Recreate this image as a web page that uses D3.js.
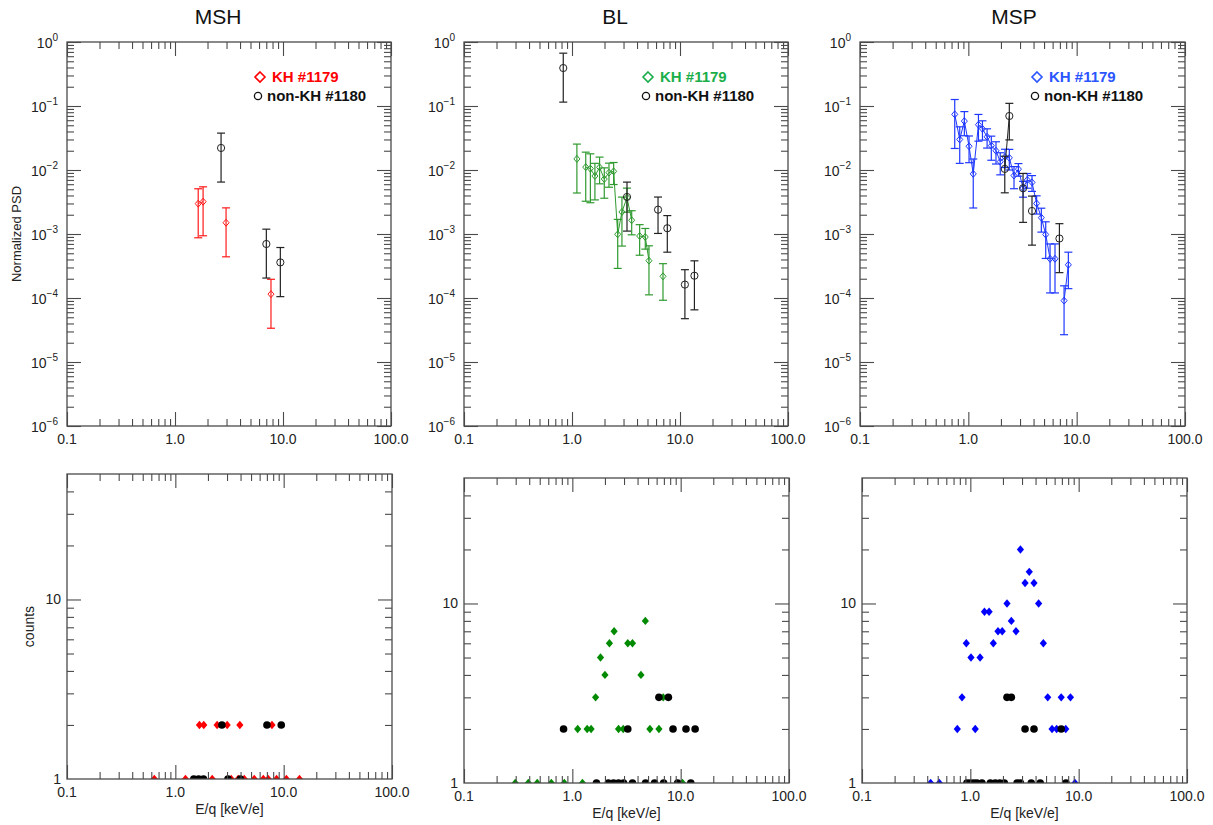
<!DOCTYPE html>
<html><head><meta charset="utf-8">
<script src="https://cdn.jsdelivr.net/npm/d3@7"></script>
<style>
body{margin:0;background:#fff}
text{font-family:"Liberation Sans",Arial,Helvetica,sans-serif}
</style>
</head><body>
<svg id="c" width="1213" height="825"></svg>
<script>
// ---------- tick labels ----------
const xTickValues = [0.1, 1, 10, 100];
const xTickLabels = ["0.1", "1.0", "10.0", "100.0"];
const psdTickExps = [0, -1, -2, -3, -4, -5, -6];
const countTickValues = [1, 10];
const countTickLabels = ["1", "10"];
const regionNames = ["MSH", "BL", "MSP"];
const legendLabels = ["KH #1179", "non-KH #1180"];

// ---------- MSH ----------
const mshKhE   = [1.64, 1.82, 2.97, 7.74];
const mshKhPsd = [2.98e-3, 3.2e-3, 1.5e-3, 1.15e-4];
const mshKhHi  = [5.09e-3, 5.46e-3, 2.56e-3, 1.96e-4];
const mshKhLo  = [8.73e-4, 9.38e-4, 4.40e-4, 3.37e-5];
const mshKhSeg = [0, 0, 1, 2];
const mshNonE   = [2.67, 7.01, 9.45];
const mshNonPsd = [2.21e-2, 6.98e-4, 3.6e-4];
const mshNonHi  = [3.77e-2, 1.19e-3, 6.15e-4];
const mshNonLo  = [6.48e-3, 2.05e-4, 1.05e-4];
const mshNonSeg = [0, 1, 2];
const mshKhCntE = [1.67, 1.83, 2.43, 3.01, 3.94, 7.8, 0.64, 1.24, 2.19, 3.28, 3.8, 4.33, 5.35, 6.49, 7.2, 8.6, 10.6, 14.0];
const mshKhCnt  = [2, 2, 2, 2, 2, 2, 1, 1, 1, 1, 1, 1, 1, 1, 1, 1, 1, 1];
const mshNonCntE = [2.69, 7.01, 9.5, 1.48, 1.64, 1.82, 3.06, 3.98];
const mshNonCnt  = [2, 2, 2, 1, 1, 1, 1, 1];

// ---------- BL ----------
const blKhE   = [1.11, 1.34, 1.48, 1.63, 1.80, 1.99, 2.20, 2.43, 2.65, 2.90, 3.23, 3.57, 4.23, 4.77, 5.16, 6.96];
const blKhPsd = [1.49e-2, 1.11e-2, 1.05e-2, 8.06e-3, 1.10e-2, 7.23e-3, 9.09e-3, 9.53e-3, 9.89e-4, 2.21e-3, 3.70e-3, 1.64e-3, 9.31e-4, 8.98e-4, 3.83e-4, 2.18e-4];
const blKhHi  = [2.54e-2, 1.90e-2, 1.79e-2, 1.27e-2, 1.59e-2, 1.08e-2, 1.28e-2, 1.31e-2, 1.69e-3, 3.77e-3, 5.21e-3, 2.31e-3, 1.40e-3, 1.22e-3, 6.54e-4, 3.44e-4];
const blKhLo  = [4.37e-3, 3.25e-3, 3.08e-3, 3.41e-3, 6.08e-3, 3.62e-3, 5.38e-3, 5.93e-3, 2.90e-4, 6.48e-4, 2.19e-3, 9.71e-4, 4.66e-4, 5.80e-4, 1.12e-4, 9.22e-5];
const blKhSeg = [0, 1, 1, 1, 1, 1, 1, 1, 1, 1, 1, 1, 2, 2, 2, 3];
const blNonE   = [0.83, 3.23, 6.26, 7.63, 11.1, 13.6];
const blNonPsd = [0.392, 3.79e-3, 2.40e-3, 1.23e-3, 1.62e-4, 2.23e-4];
const blNonHi  = [0.669, 6.47e-3, 3.78e-3, 1.94e-3, 2.77e-4, 3.81e-4];
const blNonLo  = [0.115, 1.11e-3, 1.02e-3, 5.20e-4, 4.75e-5, 6.53e-5];
const blNonSeg = [0, 1, 2, 3, 4, 5];
const blKhCntE = [1.12, 1.37, 1.49, 1.64, 1.82, 2.0, 2.2, 2.43, 2.67, 2.95, 3.25, 3.59, 4.3, 4.72, 5.2, 6.3, 6.9, 0.297, 0.392, 0.474, 0.64, 0.843, 1.24, 10.4];
const blKhCnt  = [2, 2, 2, 3, 5, 4, 6, 7, 2, 2, 6, 6, 4, 8, 2, 2, 3, 1, 1, 1, 1, 1, 1, 1];
const blNonCntE = [0.83, 3.25, 8.5, 11.2, 13.6, 6.3, 7.7, 1.67, 2.15, 2.4, 2.67, 2.97, 3.59, 4.74, 5.74, 6.96, 9.38, 12.4];
const blNonCnt  = [2, 2, 2, 2, 2, 3, 3, 1, 1, 1, 1, 1, 1, 1, 1, 1, 1, 1];

// ---------- MSP ----------
const mspKhE   = [0.749, 0.833, 0.919, 1.015, 1.11, 1.24, 1.35, 1.49, 1.63, 1.80, 1.97, 2.18, 2.39, 2.64, 2.9, 3.2, 3.5, 3.87, 4.27, 4.72, 5.18, 5.68, 6.31, 7.65, 8.38];
const mspKhPsd = [7.4e-2, 3.0e-2, 5.8e-2, 2.35e-2, 8.7e-3, 5.1e-2, 4.4e-2, 3.3e-2, 2.4e-2, 2.0e-2, 1.35e-2, 1.6e-2, 1.55e-2, 8.2e-3, 1.03e-2, 5.2e-3, 7.0e-3, 6.4e-3, 3.0e-3, 1.8e-3, 9.8e-4, 4.1e-4, 4.1e-4, 9.1e-5, 3.3e-4];
const mspKhHi  = [0.1263, 4.73e-2, 8.17e-2, 3.40e-2, 1.485e-2, 7.38e-2, 5.87e-2, 4.40e-2, 3.38e-2, 2.76e-2, 1.86e-2, 2.11e-2, 2.10e-2, 1.13e-2, 1.26e-2, 6.64e-3, 8.81e-3, 8.17e-3, 3.95e-3, 2.53e-3, 1.55e-3, 7.0e-4, 7.0e-4, 1.55e-4, 5.2e-4];
const mspKhLo  = [2.17e-2, 1.27e-2, 3.43e-2, 1.30e-2, 2.55e-3, 2.82e-2, 2.93e-2, 2.20e-2, 1.42e-2, 1.24e-2, 8.4e-3, 1.094e-2, 1.00e-2, 5.1e-3, 8.0e-3, 3.76e-3, 5.19e-3, 4.63e-3, 2.05e-3, 1.07e-3, 4.15e-4, 1.20e-4, 1.20e-4, 2.67e-5, 1.40e-4];
const mspKhSeg = [0, 0, 0, 0, 0, 0, 0, 0, 0, 0, 0, 0, 0, 0, 0, 0, 0, 0, 0, 0, 0, 0, 0, 1, 1];
const mspNonE   = [2.17, 2.39, 3.2, 3.87, 6.93];
const mspNonPsd = [1.04e-2, 6.98e-2, 5.18e-3, 2.29e-3, 8.5e-4];
const mspNonHi  = [1.64e-2, 0.110, 8.84e-3, 3.91e-3, 1.45e-3];
const mspNonLo  = [4.4e-3, 2.95e-2, 1.52e-3, 6.7e-4, 2.49e-4];
const mspNonSeg = [0, 0, 1, 2, 3];
const mspKhCntE = [0.758, 0.838, 0.918, 1.014, 1.11, 1.23, 1.35, 1.49, 1.63, 1.80, 1.97, 2.18, 2.39, 2.64, 2.9, 3.2, 3.5, 3.87, 4.27, 4.72, 5.18, 5.68, 6.26, 6.9, 7.6, 8.4, 0.43, 0.517, 9.25];
const mspKhCnt  = [2, 3, 6, 5, 2, 5, 9, 9, 6, 7, 7, 10, 8, 7, 20, 13, 15, 13, 10, 6, 3, 2, 2, 3, 2, 3, 1, 1, 1];
const mspNonCntE = [2.18, 2.39, 3.2, 3.87, 6.9, 0.93, 1.0, 1.075, 1.15, 1.28, 1.53, 1.70, 1.87, 2.06, 2.7, 2.9, 3.65, 4.42, 7.63];
const mspNonCnt  = [3, 3, 2, 2, 2, 1, 1, 1, 1, 1, 1, 1, 1, 1, 1, 1, 1, 1, 1];

// ---------- assemble ----------
function series(E, v, hi, lo, seg) { return E.map((e, i) => ({e, v: v[i], hi: hi[i], lo: lo[i], seg: seg[i]})); }
function cseries(E, c) { return E.map((e, i) => ({e, c: c[i]})); }

const panels = [
  {name: regionNames[0], top: [67, 391, 42, 426], bot: [67, 392, 474, 779], title: 218, legX: 260,
   col: "#ff1a1a", legCol: "#ff0000", cntCol: "#ff0000",
   kh: series(mshKhE, mshKhPsd, mshKhHi, mshKhLo, mshKhSeg), non: series(mshNonE, mshNonPsd, mshNonHi, mshNonLo, mshNonSeg),
   khC: cseries(mshKhCntE, mshKhCnt), nonC: cseries(mshNonCntE, mshNonCnt), ylab: true},
  {name: regionNames[1], top: [464, 788, 42, 426], bot: [464, 789, 478, 783], title: 615, legX: 648,
   col: "#2f9a2f", legCol: "#1aae4a", cntCol: "#008a00",
   kh: series(blKhE, blKhPsd, blKhHi, blKhLo, blKhSeg), non: series(blNonE, blNonPsd, blNonHi, blNonLo, blNonSeg),
   khC: cseries(blKhCntE, blKhCnt), nonC: cseries(blNonCntE, blNonCnt)},
  {name: regionNames[2], top: [860, 1185, 42, 426], bot: [862, 1187, 478, 783], title: 1014, legX: 1037,
   col: "#1f38ff", legCol: "#2a55ff", cntCol: "#0000ff",
   kh: series(mspKhE, mspKhPsd, mspKhHi, mspKhLo, mspKhSeg), non: series(mspNonE, mspNonPsd, mspNonHi, mspNonLo, mspNonSeg),
   khC: cseries(mspKhCntE, mspKhCnt), nonC: cseries(mspNonCntE, mspNonCnt)}
];

const svg = d3.select("#c");
const frameCol = "#4a4a4a";
let clipId = 0;

function minorTicks(lo, hi) {
  const out = [];
  for (let d = lo; d < hi; d *= 10) for (let k = 2; k <= 9; k++) { const v = d * k; if (v < hi) out.push(v); }
  return out;
}

function frame(g, x, y, x0, x1, y0, y1, yMaj, yMin, majLen, minLen) {
  const xMaj = xTickValues, xMin = minorTicks(0.1, 100);
  const addAxis = (axis, tx, ty) => {
    const a = g.append("g").attr("transform", `translate(${tx},${ty})`).call(axis);
    a.select(".domain").remove();
    a.selectAll("line").attr("stroke", frameCol).attr("stroke-width", 1.1);
    a.selectAll("text").remove();
  };
  addAxis(d3.axisBottom(x).tickValues(xMaj).tickSize(-majLen).tickFormat(""), 0, y1);
  addAxis(d3.axisBottom(x).tickValues(xMin).tickSize(-minLen).tickFormat(""), 0, y1);
  addAxis(d3.axisTop(x).tickValues(xMaj).tickSize(-majLen).tickFormat(""), 0, y0);
  addAxis(d3.axisTop(x).tickValues(xMin).tickSize(-minLen).tickFormat(""), 0, y0);
  addAxis(d3.axisLeft(y).tickValues(yMaj).tickSize(-majLen).tickFormat(""), x0, 0);
  addAxis(d3.axisLeft(y).tickValues(yMin).tickSize(-minLen).tickFormat(""), x0, 0);
  addAxis(d3.axisRight(y).tickValues(yMaj).tickSize(-majLen).tickFormat(""), x1, 0);
  addAxis(d3.axisRight(y).tickValues(yMin).tickSize(-minLen).tickFormat(""), x1, 0);
  g.append("rect").attr("x", x0).attr("y", y0).attr("width", x1 - x0).attr("height", y1 - y0)
    .attr("fill", "none").attr("stroke", frameCol).attr("stroke-width", 1.3);
  // x labels
  g.selectAll(null).data(xTickValues).join("text")
    .attr("x", d => x(d)).attr("y", y1 + 18).attr("text-anchor", "middle")
    .attr("font-size", 14).attr("fill", "#222").text((d, i) => xTickLabels[i]);
}

function diamondPath(cx, cy, w, h) { return `M${cx},${cy - h}L${cx + w},${cy}L${cx},${cy + h}L${cx - w},${cy}Z`; }

panels.forEach(p => {
  // ---- top panel ----
  const [x0, x1, y0, y1] = p.top;
  const x = d3.scaleLog().domain([0.1, 100]).range([x0, x1]);
  const y = d3.scaleLog().domain([1e-6, 1]).range([y1, y0]);
  const g = svg.append("g");
  svg.append("text").attr("x", p.title).attr("y", 24).attr("text-anchor", "middle")
    .attr("font-size", 21).attr("fill", "#111").text(p.name);
  frame(g, x, y, x0, x1, y0, y1, psdTickExps.map(e => Math.pow(10, e)), minorTicks(1e-6, 1), 14, 7);
  // y labels with superscripts
  psdTickExps.forEach(e => {
    const t = g.append("text").attr("x", x0 - 9).attr("y", y(Math.pow(10, e)) + 6)
      .attr("text-anchor", "end").attr("font-size", 14).attr("fill", "#222");
    t.append("tspan").text("10");
    t.append("tspan").attr("font-size", 10).attr("dy", -7).text(String(e).replace("-", "\u2212"));
  });
  if (p.ylab) {
    g.append("text").attr("transform", `translate(21,${(y0 + y1) / 2}) rotate(-90)`)
      .attr("text-anchor", "middle").attr("font-size", 13).attr("fill", "#222").text("Normalized PSD");
  }
  const line = d3.line().x(d => x(d.e)).y(d => y(d.v));
  function drawSeries(data, color, marker) {
    const segs = d3.groups(data, d => d.seg);
    segs.forEach(([, pts]) => {
      if (pts.length > 1) g.append("path").attr("d", line(pts)).attr("fill", "none").attr("stroke", color).attr("stroke-width", 1);
    });
    data.forEach(d => {
      const cx = x(d.e);
      g.append("line").attr("x1", cx).attr("x2", cx).attr("y1", y(d.lo)).attr("y2", y(d.hi)).attr("stroke", color).attr("stroke-width", 1.2);
      [d.lo, d.hi].forEach(v => g.append("line").attr("x1", cx - 4).attr("x2", cx + 4).attr("y1", y(v)).attr("y2", y(v)).attr("stroke", color).attr("stroke-width", 1.2));
    });
    data.forEach(d => {
      if (marker === "diamond") g.append("path").attr("d", diamondPath(x(d.e), y(d.v), 3, 3.5)).attr("fill", "none").attr("stroke", color).attr("stroke-width", 1);
      else g.append("circle").attr("cx", x(d.e)).attr("cy", y(d.v)).attr("r", 3.6).attr("fill", "none").attr("stroke", color).attr("stroke-width", 1);
    });
  }
  drawSeries(p.kh, p.col, "diamond");
  drawSeries(p.non, "#222", "circle");
  // legend
  g.append("path").attr("d", diamondPath(p.legX, 77, 5, 5)).attr("fill", "none").attr("stroke", p.legCol).attr("stroke-width", 1.6);
  g.append("text").attr("x", p.legX + 12).attr("y", 82).attr("font-size", 15).attr("font-weight", "bold").attr("fill", p.legCol).text(legendLabels[0]);
  g.append("circle").attr("cx", p.legX - 2).attr("cy", 96).attr("r", 3.6).attr("fill", "none").attr("stroke", "#111").attr("stroke-width", 1.3);
  g.append("text").attr("x", p.legX + 7).attr("y", 101).attr("font-size", 15).attr("font-weight", "bold").attr("fill", "#111").text(legendLabels[1]);

  // ---- bottom panel ----
  const [bx0, bx1, by0, by1] = p.bot;
  const bx = d3.scaleLog().domain([0.1, 100]).range([bx0, bx1]);
  const by = d3.scaleLog().domain([1, 50]).range([by1, by0]);
  const bg = svg.append("g");
  const cid = "clip" + (clipId++);
  svg.append("clipPath").attr("id", cid).append("rect").attr("x", bx0).attr("y", by0).attr("width", bx1 - bx0).attr("height", by1 - by0);
  const marks = bg.append("g").attr("clip-path", `url(#${cid})`);
  marks.selectAll(null).data(p.khC).join("path")
    .attr("d", d => diamondPath(bx(d.e), by(d.c), 3.6, 4.2)).attr("fill", p.cntCol);
  marks.selectAll(null).data(p.nonC).join("circle")
    .attr("cx", d => bx(d.e)).attr("cy", d => by(d.c)).attr("r", 3.8).attr("fill", "#000");
  frame(bg, bx, by, bx0, bx1, by0, by1, [10], [2, 3, 4, 5, 6, 7, 8, 9, 20, 30, 40], 14, 7);
  bg.selectAll(null).data(countTickValues).join("text")
    .attr("x", bx0 - 6).attr("y", d => by(d) + 5).attr("text-anchor", "end")
    .attr("font-size", 14).attr("fill", "#222").text((d, i) => countTickLabels[i]);
  bg.append("text").attr("x", (bx0 + bx1) / 2).attr("y", by1 + 35).attr("text-anchor", "middle")
    .attr("font-size", 14).attr("fill", "#222").text("E/q [keV/e]");
  if (p.ylab) {
    bg.append("text").attr("transform", `translate(34,${(by0 + by1) / 2}) rotate(-90)`)
      .attr("text-anchor", "middle").attr("font-size", 14).attr("fill", "#222").text("counts");
  }
});
</script>
</body></html>
